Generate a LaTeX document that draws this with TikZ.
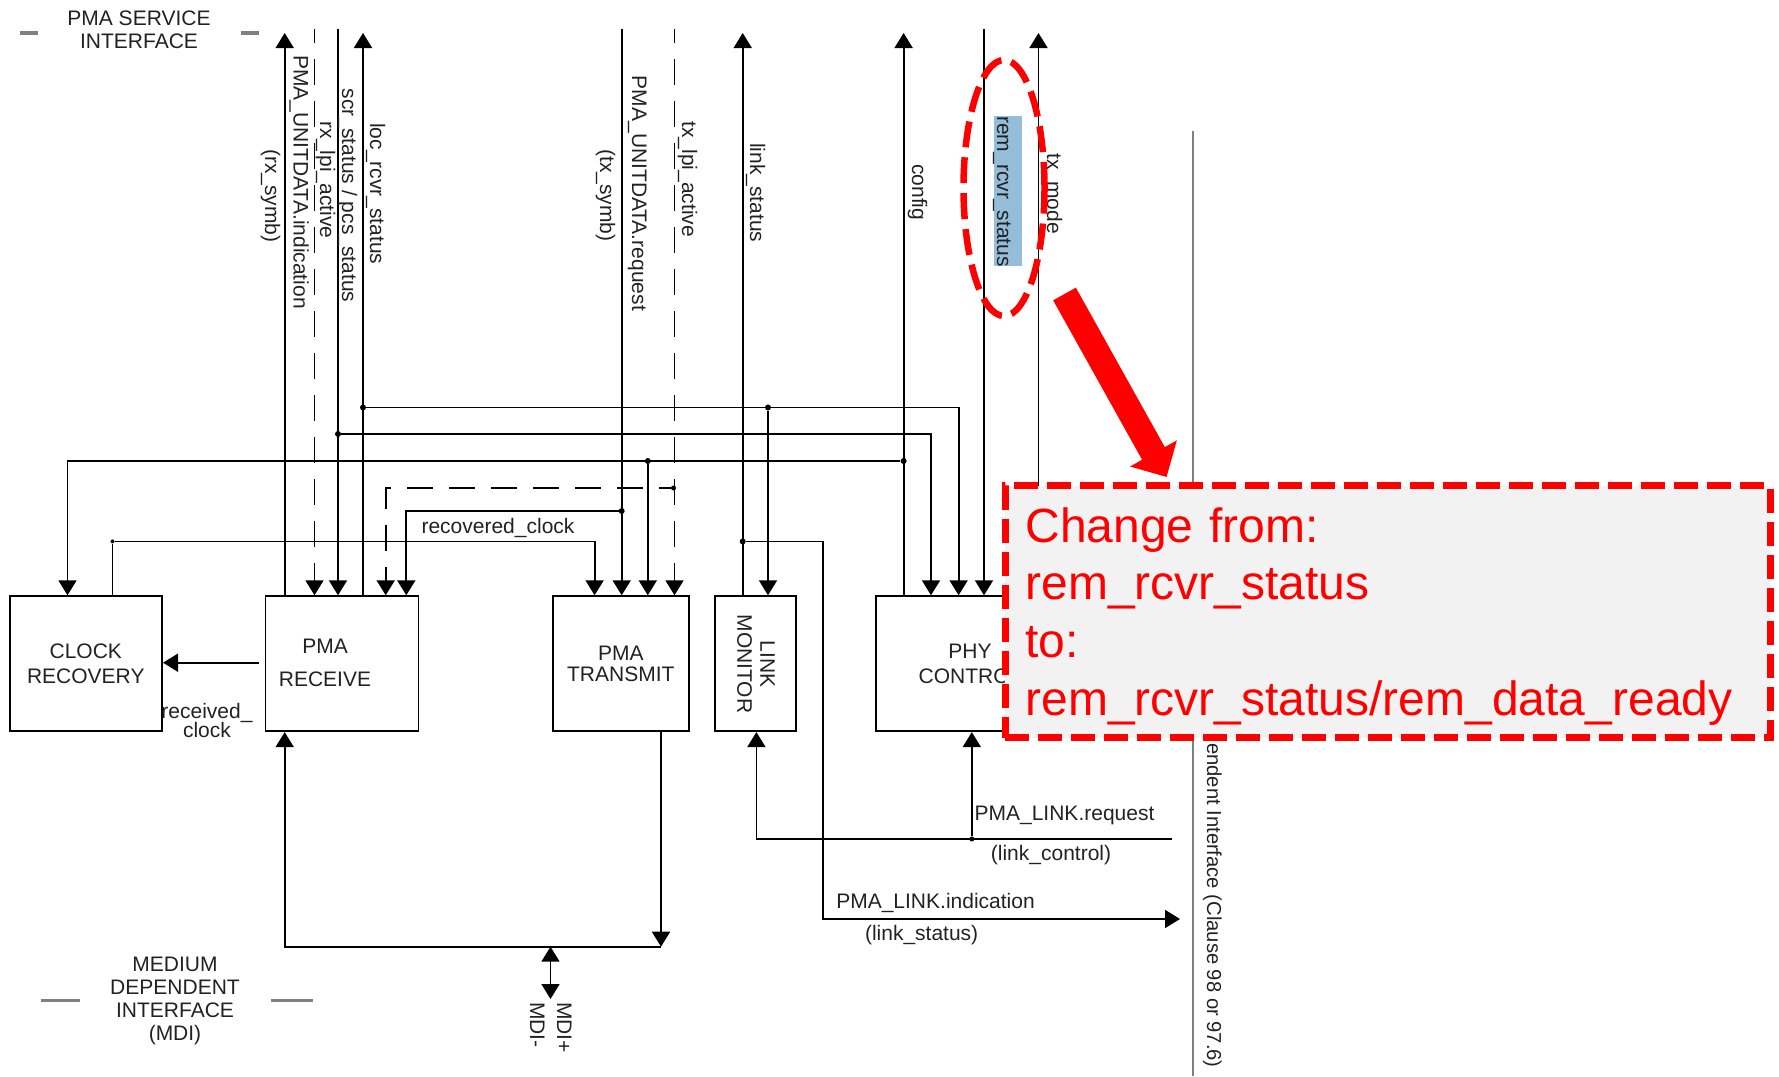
\documentclass[tikz,border=0pt]{standalone}
\usepackage{fontspec}
\setmainfont{Liberation Sans}
\usetikzlibrary{arrows.meta, shapes.geometric}

\definecolor{hilite}{HTML}{94BDD9}
\definecolor{calloutgray}{HTML}{F2F2F2}
\definecolor{textgray}{HTML}{222222}

\tikzset{
    sig/.style={line width=1.8pt, draw=black},
    arr/.style={sig, -{Triangle[length=15pt,width=18pt]}},
    biarr/.style={sig, {Triangle[length=15pt,width=18pt]}-{Triangle[length=15pt,width=18pt]}},
    darr/.style={arr, dash pattern=on 26pt off 16pt, dash phase=12pt},
    block/.style={rectangle, draw, line width=1.8pt, inner sep=0pt, align=center, text=textgray, font=\fontsize{21}{24}\selectfont},
    txt/.style={inner sep=0pt, align=center, text=textgray, font=\fontsize{21}{23}\selectfont},
    vlabel/.style={txt, rotate=-90, anchor=base west},
    junction/.style={circle, fill=black, inner sep=0pt, minimum size=6pt},
    sidedash/.style={line width=3.5pt, draw=gray},
}

\begin{document}
\begin{tikzpicture}[x=1pt, y=-1pt]
    \useasboundingbox (0,0) rectangle (1779,1076);

    % Grey boundary and its label
    \coordinate (bndtop) at (1193,131);
    \coordinate (bndbot) at (1193,1076);
    \draw[line width=1.6pt, draw=gray] (bndtop) -- (bndbot);
    \node[vlabel, font=\fontsize{20.2}{23}\selectfont] (clause) at (1207,743) {endent Interface (Clause 98 or 97.6)};

    % Draw blocks
    \node[block, minimum width=152pt, minimum height=135pt] (clock) at (85.8,663.7) {CLOCK\\[1pt]RECOVERY};
    \node[block, minimum width=153pt, minimum height=135pt] (recv) at (341.9,663.7) {};
    \node[block, minimum width=136pt, minimum height=135pt] (trans) at (620.8,663.7) {PMA\\[-3pt]TRANSMIT};
    \node[block, minimum width=81pt, minimum height=135pt] (mon) at (755.5,663.7) {};
    \node[block, minimum width=188pt, minimum height=135pt] (phy) at (970,663.7) {PHY\\[1pt]CONTROL};

    % Block labels placed by hand
    \node[txt] (recvtxt) at (325,662.5) {PMA\\[10pt]RECEIVE};
    \node[txt, rotate=-90] (montxt) at (756,664) {LINK\\MONITOR};

    % Top ends of the vertical signals
    \coordinate (rxsymb) at (284.7,33);
    \coordinate (rxlpi) at (314.5,29);
    \coordinate (scr) at (338,29);
    \coordinate (loc) at (363,33);
    \coordinate (txsymb) at (621.7,29);
    \coordinate (txlpi) at (674.5,29);
    \coordinate (link) at (742.7,33);
    \coordinate (config) at (903.6,33);
    \coordinate (rem) at (984,29);
    \coordinate (txmode) at (1038.5,33);

    % Junctions
    \node[junction] (jloc) at (363,407.5) {};
    \node[junction] (jscr) at (338,434) {};
    \node[junction] (jconfig) at (903.6,461) {};
    \node[junction] (jlocm) at (768,407.5) {};
    \node[junction] (jtx) at (647.8,461) {};
    \node[junction, minimum size=5pt] (jlpi) at (673.5,488) {};
    \node[junction] (jsymb) at (621.7,511) {};
    \node[junction, minimum size=4pt] (jclk) at (112.5,541.4) {};
    \node[junction] (jlink) at (742.7,541.4) {};
    \node[junction, minimum size=5pt] (jctl) at (971.8,839) {};

    % Draw the PMA service signals
    \draw[arr] (rxsymb |- recv.north) -- (rxsymb);
    \draw[darr] (rxlpi) -- (rxlpi |- recv.north);
    \draw[arr] (scr) -- (scr |- recv.north);
    \draw[arr] (loc |- recv.north) -- (loc);
    \draw[arr] (txsymb) -- (txsymb |- trans.north);
    \draw[darr] (txlpi) -- (txlpi |- trans.north);
    \draw[arr] (link |- mon.north) -- (link);
    \draw[arr] (config |- phy.north) -- (config);
    \draw[arr] (rem) -- (rem |- phy.north);
    \draw[arr] (txmode |- phy.north) -- (txmode);

    % Draw the feeds between blocks
    \coordinate (feedloc) at (958.6,407.5);
    \coordinate (feedscr) at (931,434);
    \coordinate (feedclk) at (67.5,461);
    \coordinate (dashcor) at (385.7,488);
    \coordinate (rclkcor) at (406.3,511);
    \coordinate (clkcor) at (594.6,541.4);
    \coordinate (linkcor) at (823.3,541.4);
    \draw[arr] (jloc) -- (feedloc) -- (feedloc |- phy.north);
    \draw[arr] (jscr) -- (feedscr) -- (feedscr |- phy.north);
    \draw[arr] (jconfig) -- (feedclk) -- (feedclk |- clock.north);
    \draw[arr] (jlocm) -- (jlocm |- mon.north);
    \draw[arr] (jtx) -- (jtx |- trans.north);
    \draw[darr, dash phase=14pt] (jlpi) -- (dashcor) -- (dashcor |- recv.north);
    \draw[arr] (jsymb) -- (rclkcor) -- (rclkcor |- recv.north);
    \draw[arr] (jclk |- clock.north) -- (jclk) -- (clkcor) -- (clkcor |- trans.north);

    % Received clock
    \coordinate (rcvfrom) at (258.5,662.7);
    \coordinate (rcvto) at (163,662.7);
    \draw[arr] (rcvfrom) -- (rcvto);

    % Draw the MDI bus
    \coordinate (busl) at (284.7,946.7);
    \coordinate (busr) at (661,946.7);
    \coordinate (busm) at (550.5,946.7);
    \coordinate (mdi) at (550.5,999);
    \draw[arr] (busr) -- (busl) -- (busl |- recv.south);
    \draw[arr] (busr |- trans.south) -- (busr);
    \draw[biarr] (busm) -- (mdi);

    % Draw the PMA_LINK signals
    \coordinate (ctlend) at (1172,839);
    \coordinate (ctlcor) at (756.4,839);
    \coordinate (indend) at (1180,919);
    \coordinate (indcor) at (823.3,919);
    \draw[arr] (ctlend) -- (ctlcor) -- (ctlcor |- mon.south);
    \draw[arr] (jctl) -- (jctl |- phy.south);
    \draw[arr] (jlink) -- (linkcor) -- (indcor) -- (indend);

    % Interface headings
    \node[txt] (pmaif) at (139,29.5) {PMA SERVICE\\INTERFACE};
    \node[txt] (mdiif) at (175,1000.5) {MEDIUM\\DEPENDENT\\INTERFACE\\(MDI)};
    \coordinate (da) at (20,33);
    \coordinate (db) at (38,33);
    \coordinate (dc) at (241,33);
    \coordinate (dd) at (258.5,33);
    \coordinate (de) at (41,1000.4);
    \coordinate (df) at (80,1000.4);
    \coordinate (dg) at (271,1000.4);
    \coordinate (dh) at (313,1000.4);
    \draw[sidedash] (da) -- (db);
    \draw[sidedash] (dc) -- (dd);
    \draw[sidedash] (de) -- (df);
    \draw[sidedash] (dg) -- (dh);

    % Labels
    \node[vlabel] (lrxsymb) at (265,149) {(rx\_symb)};
    \node[vlabel] (lrxind) at (293.5,55) {PMA\_UNITDATA.indication};
    \node[vlabel] (lrxlpi) at (320,121.4) {rx\_lpi\_active};
    \node[vlabel] (lscr) at (342,88.6) {scr\_status / pcs\_status};
    \node[vlabel] (lloc) at (370,123) {loc\_rcvr\_status};
    \node[vlabel] (ltxsymb) at (600,149) {(tx\_symb)};
    \node[vlabel] (ltxreq) at (632,75.7) {PMA\_UNITDATA.request};
    \node[vlabel] (ltxlpi) at (682,121.4) {tx\_lpi\_active};
    \node[vlabel] (llink) at (750,143) {link\_status};
    \node[vlabel] (lconfig) at (912,164) {config};
    \node[fill=hilite, inner sep=0pt, minimum width=28pt, minimum height=150pt] (hibar) at (1008.2,191) {};
    \node[vlabel] (lrem) at (997,116) {rem\_rcvr\_status};
    \node[vlabel] (ltxmode) at (1047,153) {tx\_mode};
    \node[txt] (lrclk) at (498,528) {recovered\_clock};
    \node[txt] (lrcvd) at (207,720) {received\_\\[-4pt]clock};
    \node[vlabel] (lmdip) at (557,1002) {MDI+};
    \node[vlabel] (lmdim) at (530,1002) {MDI-};
    \node[txt] (lreq) at (1064.5,815.6) {PMA\_LINK.request};
    \node[txt] (lctl) at (1051,855) {(link\_control)};
    \node[txt] (lind) at (935.5,903) {PMA\_LINK.indication};
    \node[txt] (lsta) at (921.6,934.6) {(link\_status)};

    % Red markup on top
    \node[ellipse, draw=red, line width=6.5pt, dash pattern=on 26pt off 10pt, minimum width=81pt, minimum height=256pt, inner sep=0pt] (ring) at (1004,188) {};
    \coordinate (pfrom) at (1064.5,294);
    \coordinate (pto) at (1166.6,477);
    \draw[line width=26pt, draw=red, -{Triangle[length=27pt,width=52pt]}] (pfrom) -- (pto);
    \node[rectangle, draw=red, fill=calloutgray, line width=7pt, dash pattern=on 24pt off 9pt,
        minimum width=765pt, minimum height=252pt, text width=724pt, inner xsep=20.5pt, inner ysep=0pt,
        align=left, text=red, font=\fontsize{48}{57.7}\selectfont] (callout) at (1387.5,611.6)
        {\rule{0pt}{44pt}Change from:\\rem\_rcvr\_status\\to:\\rem\_rcvr\_status/rem\_data\_ready};
\end{tikzpicture}
\end{document}
